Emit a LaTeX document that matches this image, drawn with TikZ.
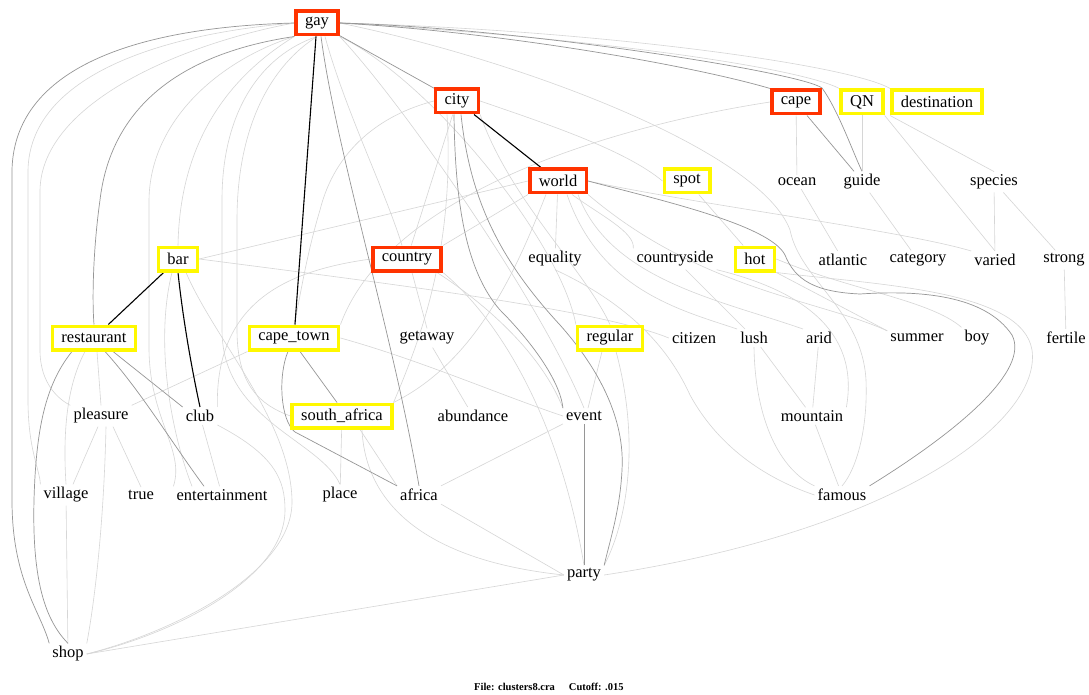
\documentclass[tikz,border=0pt]{standalone}
\usepackage{fontspec}
\setmainfont{Liberation Serif}
\usetikzlibrary{calc}
\definecolor{rboxc}{RGB}{255,51,0}
\definecolor{yboxc}{RGB}{255,248,0}
\definecolor{dkc}{RGB}{150,150,150}
\definecolor{ltc}{RGB}{214,214,214}
\pgfdeclarelayer{bg}
\pgfsetlayers{bg,main}
\begin{document}
\begin{tikzpicture}[x=1pt,y=-1pt,
  word/.style={inner sep=3pt, font=\fontsize{16.5}{18}\selectfont},
  rbox/.style={word, draw=rboxc, line width=3.5pt, fill=white, inner xsep=9pt, minimum height=23.5pt},
  ybox/.style={rbox, draw=yboxc},
  blk/.style={draw=black, line width=1.1pt},
  dk/.style={draw=dkc, line width=0.7pt},
  lt/.style={draw=ltc, line width=0.6pt}]
\useasboundingbox (0,0) rectangle (1089,695);
% nodes
\node[rbox] (gay) at (317,23) {gay};
\node[rbox] (city) at (457,101) {city};
\node[rbox] (cape) at (796,102) {cape};
\node[ybox] (QN) at (862,102) {QN};
\node[ybox] (dest) at (937,102) {destination};
\node[rbox] (world) at (558,181) {world};
\node[ybox] (spot) at (687,181) {spot};
\node[word] (ocean) at (797,182) {ocean};
\node[word] (guide) at (862,182) {guide};
\node[word] (species) at (994,182) {species};
\node[ybox] (bar) at (178,259) {bar};
\node[rbox] (country) at (407,259) {country};
\node[word] (equality) at (555,259) {equality};
\node[word] (countryside) at (675,259) {countryside};
\node[ybox] (hot) at (755,259) {hot};
\node[word] (atlantic) at (843,260) {atlantic};
\node[word] (category) at (918,260) {category};
\node[word] (varied) at (995,260) {varied};
\node[word] (strong) at (1064,260) {strong};
\node[ybox] (restaurant) at (94,338) {restaurant};
\node[ybox] (capetown) at (294,338) {cape\_town};
\node[word] (getaway) at (427,338) {getaway};
\node[ybox] (regular) at (610,338) {regular};
\node[word] (citizen) at (694,338) {citizen};
\node[word] (lush) at (754,338) {lush};
\node[word] (arid) at (819,338) {arid};
\node[word] (summer) at (917,338) {summer};
\node[word] (boy) at (977,338) {boy};
\node[word] (fertile) at (1066,338) {fertile};
\node[word] (pleasure) at (101,416) {pleasure};
\node[word] (club) at (200,416) {club};
\node[ybox] (southafrica) at (342,416) {south\_africa};
\node[word] (abundance) at (473,416) {abundance};
\node[word] (event) at (584,416) {event};
\node[word] (mountain) at (812,416) {mountain};
\node[word] (village) at (66,495) {village};
\node[word] (true) at (141,495) {true};
\node[word] (entertainment) at (222,495) {entertainment};
\node[word] (place) at (340,495) {place};
\node[word] (africa) at (419,495) {africa};
\node[word] (famous) at (842,495) {famous};
\node[word] (party) at (584,575) {party};
\node[word] (shop) at (68,654) {shop};
\node[anchor=west, inner sep=0pt, font=\fontsize{10.5}{12}\selectfont\bfseries] (footer) at (474,687) {File: clusters8.cra\hspace{14pt}Cutoff: .015};

\begin{pgfonlayer}{bg}
\fill[white] (0,0) rectangle (1089,695);
% light edges
\draw[lt] (gay.east) .. controls (600,38) and (800,68) .. (QN.north west);
\draw[lt] (gay.east) .. controls (600,30) and (850,65) .. (dest.north west);
\draw[lt] (gay.east) .. controls (520,60) and (760,150) .. (790,230) .. controls (800,280) and (862,310) .. (866,380) .. controls (868,430) and (856,470) .. (famous.north);
\draw[lt] (gay.west) .. controls (150,35) and (30,80) .. (28,170) -- (28,400) .. controls (28,450) and (40,470) .. (village.north west);
\draw[lt] (gay.west) .. controls (190,42) and (42,100) .. (40,190) -- (40,350) .. controls (40,385) and (60,400) .. (pleasure.north west);
\draw[lt] (gay.south west) .. controls (220,60) and (150,120) .. (149,200) -- (149,350) .. controls (150,420) and (185,450) .. (entertainment.north west);
\draw[lt] (gay.south west) .. controls (240,70) and (180,130) .. (bar.north);
\draw[lt] (gay.south) .. controls (262,55) and (222,110) .. (222,200) -- (222,330) .. controls (222,420) and (320,440) .. (place.north);
\draw[lt] (gay.south) .. controls (272,65) and (237,125) .. (237,220) -- (237,330) .. controls (237,385) and (260,405) .. (southafrica.west);
\draw[lt] ($(gay.south)+(8,0)$) .. controls (345,110) and (385,190) .. ($(country.north)+(-5,0)$);
\draw[lt] (gay.south east) .. controls (400,100) and (540,300) .. (event.north);
\draw[lt] (gay.south east) .. controls (430,80) and (560,240) .. (regular.north west);
\draw[lt] (city.west) .. controls (380,115) and (335,150) .. (320,210) .. controls (305,260) and (300,300) .. (capetown.north);
\draw[lt] (city) -- (country);
\draw[lt] ($(city.south)+(-10,0)$) .. controls (455,250) and (420,340) .. (southafrica.north east);
\draw[lt] (city.south east) .. controls (510,200) and (585,270) .. (regular.north);
\draw[lt] (city.east) .. controls (550,125) and (625,150) .. (spot.west);
\draw[lt] (world.west) -- (bar.east);
\draw[lt] (world.south west) -- (country.north east);
\draw[lt] (world) -- (equality);
\draw[lt] ($(world.south)+(-12,0)$) .. controls (520,260) and (480,360) .. (southafrica.north east);
\draw[lt] ($(world.south)+(14,0)$) .. controls (600,215) and (635,232) .. (countryside.north west);
\draw[lt] ($(world.south)+(9,0)$) .. controls (600,290) and (680,310) .. (lush.north west);
\draw[lt] ($(world.south)+(20,0)$) .. controls (610,280) and (720,300) .. (arid.north west);
\draw[lt] (world.south east) .. controls (700,290) and (820,300) .. (summer.north west);
\draw[lt] (world.east) .. controls (700,205) and (900,230) .. (varied.north west);
\draw[lt] (cape) -- (ocean);
\draw[lt] (cape.west) .. controls (620,125) and (390,190) .. (capetown.north east);
\draw[lt] (QN) -- (guide);
\draw[lt] (QN.south east) -- (varied.north);
\draw[lt] (dest.south west) -- (species.north);
\draw[lt] (ocean) -- (atlantic);
\draw[lt] (guide) -- (category);
\draw[lt] (species) -- (varied);
\draw[lt] (species) -- (strong);
\draw[lt] (strong) -- (fertile);
\draw[lt] (spot) -- (hot);
\draw[lt] (hot.south east) -- (summer.north west);
\draw[lt] (hot.east) .. controls (850,290) and (930,300) .. (boy.north west);
\draw[lt] (hot.south east) .. controls (880,285) and (1022,290) .. (1032,350) .. controls (1042,420) and (900,530) .. (party.east);
\draw[lt] (countryside) -- (lush);
\draw[lt] (countryside.south east) .. controls (800,290) and (860,330) .. (mountain.north east);
\draw[lt] (lush) -- (mountain);
\draw[lt] (arid) -- (mountain);
\draw[lt] (mountain) -- (famous);
\draw[lt] (lush.south) .. controls (755,420) and (780,470) .. (famous.north west);
\draw[lt] (equality.south) .. controls (620,300) and (665,340) .. (690,395) .. controls (720,450) and (770,480) .. (famous.west);
\draw[lt] ($(country.south)+(5,0)$) -- (getaway.north);
\draw[lt] ($(country.south)+(30,0)$) .. controls (480,300) and (540,350) .. (event.north west);
\draw[lt] (country.south east) .. controls (500,320) and (560,420) .. (party.north);
\draw[lt] (country.west) .. controls (290,270) and (215,300) .. (club.north east);
\draw[lt] (bar.east) .. controls (400,285) and (600,310) .. (citizen.west);
\draw[lt] (capetown.east) .. controls (420,360) and (500,395) .. (event.west);
\draw[lt] (capetown.south west) -- (pleasure.north east);
\draw[lt] ($(southafrica.south)+(20,0)$) .. controls (365,500) and (420,560) .. (party.west);
\draw[lt] (southafrica) -- (place);
\draw[lt] ($(southafrica.south)+(18,0)$) -- (africa.north west);
\draw[lt] (event.south west) -- (africa.north east);
\draw[lt] (africa.south east) -- (party.west);
\draw[lt] (party.west) -- (shop.east);
\draw[lt] (getaway) -- (abundance);
\draw[lt] ($(regular.south)+(-8,0)$) -- ($(event.north)+(4,0)$);
\draw[lt] ($(regular.south)+(6,0)$) .. controls (640,440) and (628,520) .. (party.north east);
\draw[lt] ($(restaurant.south)+(3,0)$) -- (pleasure.north);
\draw[lt] ($(restaurant.south)+(-9,0)$) .. controls (70,380) and (62,420) .. (village.north);
\draw[lt] ($(pleasure.south)+(-3,0)$) -- ($(village.north)+(7,0)$);
\draw[lt] ($(pleasure.south)+(12,0)$) -- (true.north);
\draw[lt] ($(pleasure.south)+(5,0)$) .. controls (104,520) and (95,600) .. (shop.north east);
\draw[lt] (village) -- (shop);
\draw[lt] (club) -- (entertainment);
\draw[lt] ($(bar.south)+(8,0)$) .. controls (215,340) and (290,420) .. (292,500) .. controls (294,570) and (180,630) .. (shop.east);
\draw[lt] (club.south east) .. controls (275,455) and (285,480) .. (285,510) .. controls (285,580) and (170,635) .. (shop.east);
\draw[lt] ($(bar.south)+(-6,0)$) .. controls (155,340) and (170,430) .. ($(entertainment.north)+(-30,0)$);
% dark edges
\draw[dk] (gay) -- (city);
\draw[dk] (gay.east) .. controls (500,32) and (690,65) .. (cape.north west);
\draw[dk] (gay.east) .. controls (520,28) and (800,72) .. (822,88) .. controls (838,110) and (852,150) .. (guide.north);
\draw[dk] ($(gay.south)+(4,0)$) .. controls (336,150) and (392,330) .. (africa.north);
\draw[dk] (gay.west) .. controls (110,28) and (14,80) .. (12,170) -- (12,500) .. controls (12,580) and (40,610) .. (shop.north west);
\draw[dk] (gay.south west) .. controls (170,55) and (110,115) .. (100,200) .. controls (93,250) and (92,300) .. (restaurant.north);
\draw[dk] ($(restaurant.south)+(-22,0)$) .. controls (45,385) and (36,430) .. (34,500) .. controls (32,580) and (45,620) .. (shop.north);
\draw[dk] ($(restaurant.south)+(19,0)$) -- (club.north west);
\draw[dk] ($(restaurant.south)+(11,0)$) .. controls (140,390) and (170,440) .. ($(entertainment.north)+(-18,0)$);
\draw[dk] ($(capetown.south)+(-6,0)$) .. controls (278,375) and (280,420) .. (295,432) -- (africa.north west);
\draw[dk] ($(capetown.south)+(6,0)$) -- ($(southafrica.north)+(-5,0)$);
\draw[dk] ($(city.south)+(-3,0)$) .. controls (455,200) and (465,270) .. (500,310) .. controls (530,340) and (560,380) .. (event.north west);
\draw[dk] ($(city.south)+(4,0)$) .. controls (470,200) and (500,260) .. (560,325) .. controls (600,370) and (625,420) .. (622,470) .. controls (620,510) and (610,540) .. (party.north east);
\draw[dk] (event) -- (party);
\draw[dk] ($(cape.south)+(11,0)$) -- ($(guide.north)+(-8,0)$);
\draw[dk] (world.east) .. controls (660,200) and (770,225) .. (785,255) .. controls (795,280) and (815,292) .. (860,294) .. controls (920,290) and (985,295) .. (1012,335) .. controls (1030,370) and (960,430) .. (famous.north east);
% black edges
\draw[blk] (gay) -- (capetown);
\draw[blk] (city) -- (world);
\draw[blk] (bar) -- (restaurant);
\draw[blk] (bar.south) .. controls (183,320) and (192,370) .. (club.north);
\end{pgfonlayer}
\end{tikzpicture}
\end{document}
